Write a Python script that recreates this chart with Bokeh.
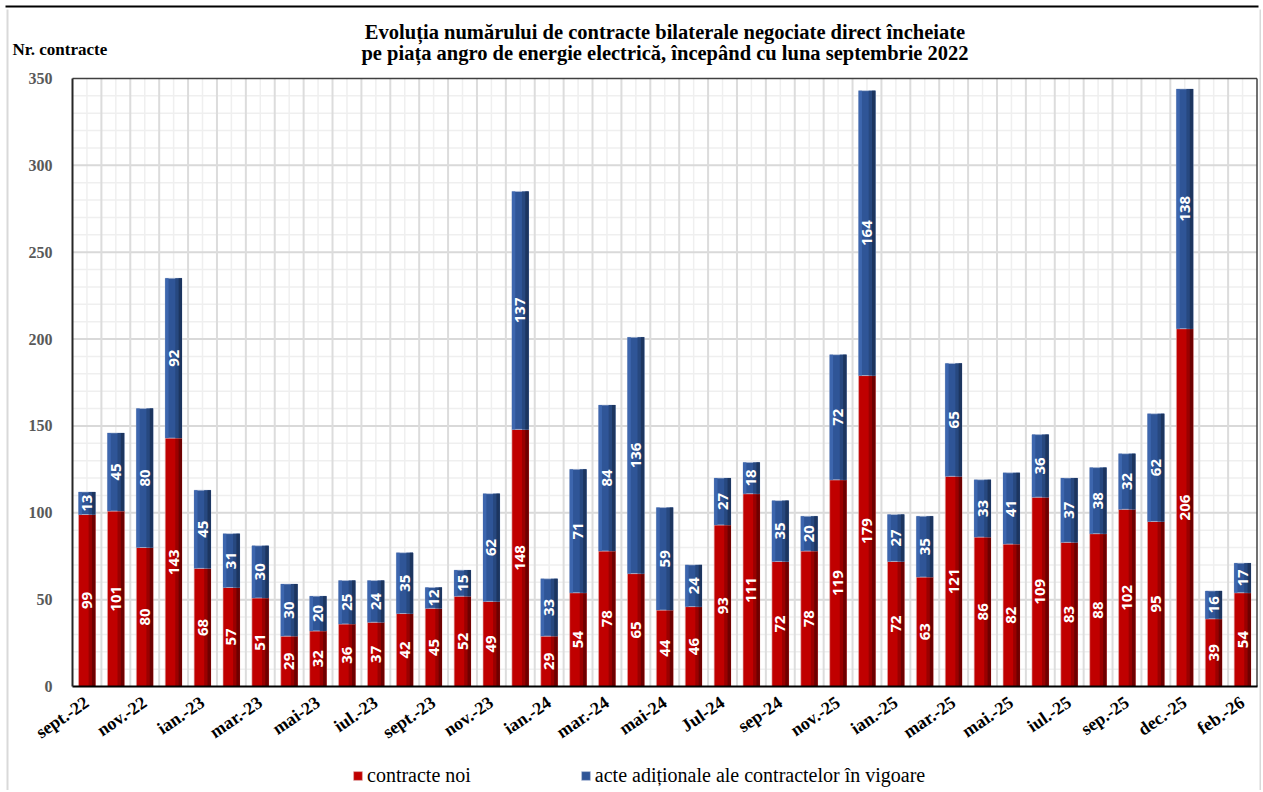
from bokeh.plotting import figure
from bokeh.models import (ColumnDataSource, FixedTicker, Label, Legend, LegendItem, Range1d)
from bokeh.core.properties import value
from bokeh.embed import file_html
from bokeh.resources import INLINE
import math

months = ["sept.-22", "oct.-22", "nov.-22", "dec.-22", "ian.-23", "feb.-23", "mar.-23", "apr.-23",
          "mai-23", "iun.-23", "iul.-23", "aug.-23", "sept.-23", "oct.-23", "nov.-23", "dec.-23",
          "ian.-24", "feb.-24", "mar.-24", "apr.-24", "mai-24", "iun.-24", "Jul-24", "aug-24",
          "sep-24", "oct-24", "nov.-25", "dec.-24", "ian.-25", "feb.-25", "mar.-25", "apr.-25",
          "mai.-25", "iun.-25", "iul.-25", "aug.-25", "sep.-25", "oct.-25", "dec.-25", "ian.-26",
          "feb.-26"]
new_contracts = [99, 101, 80, 143, 68, 57, 51, 29, 32, 36, 37, 42, 45, 52, 49, 148, 29, 54, 78, 65,
                 44, 46, 93, 111, 72, 78, 119, 179, 72, 63, 121, 86, 82, 109, 83, 88, 102, 95, 206,
                 39, 54]
addenda = [13, 45, 80, 92, 45, 31, 30, 30, 20, 25, 24, 35, 12, 15, 62, 137, 33, 71, 84, 136,
           59, 24, 27, 18, 35, 20, 72, 164, 27, 35, 65, 33, 41, 36, 37, 38, 32, 62, 138, 16, 17]
y_max = 350
y_major_step = 50
y_minor_step = 10
series_names = ["contracte noi", "acte adiționale ale contractelor în vigoare"]
title_lines = ["Evoluția numărului de contracte bilaterale negociate direct încheiate",
               "pe piața angro de energie electrică, începând cu luna septembrie 2022"]
y_title = "Nr. contracte"

n = len(months)
xs = list(range(1, n + 1))
red_top = list(new_contracts)
blue_top = [a + b for a, b in zip(new_contracts, addenda)]

# ---- canvas / plot-area geometry (pixels) ----
CW, CH = 1261, 790
PL, PR, PT, PB = 72, 1256.5, 78, 686      # plot area edges in px
px_per_x = (PR - PL) / n
px_per_y = (PB - PT) / y_max
x0 = 0.5 - PL / px_per_x
x1 = 0.5 + (CW - PL) / px_per_x
y0 = -(CH - PB) / px_per_y
y1 = PB / px_per_y


def dx(px):
    return 0.5 + (px - PL) / px_per_x


def dy(py):
    return (PB - py) / px_per_y


src = ColumnDataSource(dict(x=xs, red_top=red_top, blue_top=blue_top, zero=[0] * n))

p = figure(width=CW, height=CH, output_backend="svg", toolbar_location=None, title=None,
           x_range=Range1d(x0, x1), y_range=Range1d(y0, y1),
           min_border_left=0, min_border_right=0, min_border_top=0, min_border_bottom=0)
p.outline_line_color = None
p.background_fill_color = "white"
p.xgrid.visible = False
p.ygrid.visible = False

# chart-area decorations
p.segment(x0=[dx(5)], y0=[dy(6)], x1=[dx(1258)], y1=[dy(6)], line_color="black", line_width=2)
p.segment(x0=[dx(7), dx(1260)], y0=[dy(9), dy(9)], x1=[dx(7), dx(1260)], y1=[dy(CH), dy(CH)],
          line_color="#d9d9d9", line_width=2)

# grid lines
xa, xb = 0.5, n + 0.5
y_major = list(range(y_major_step, y_max, y_major_step))
y_minor = [v for v in range(y_minor_step, y_max, y_minor_step) if v % y_major_step]
x_major = [i + 0.5 for i in range(1, n)]
p.segment(x0=[xa] * len(y_minor), y0=y_minor, x1=[xb] * len(y_minor), y1=y_minor,
          line_color="#efefef", line_width=1.5)
p.segment(x0=xs, y0=[0] * n, x1=xs, y1=[y_max] * n, line_color="#efefef", line_width=1.5)
p.segment(x0=[xa] * len(y_major), y0=y_major, x1=[xb] * len(y_major), y1=y_major,
          line_color="#d9d9d9", line_width=2)
p.segment(x0=x_major, y0=[0] * len(x_major), x1=x_major, y1=[y_max] * len(x_major),
          line_color="#dcdcdc", line_width=2)

# bars
W = 0.58
r_red = p.vbar(x="x", bottom="zero", top="red_top", width=W, source=src,
               fill_color="#c00000", line_color="#e0b0b0", line_width=0.6)
p.vbar(x=[x + W * 0.3 for x in xs], bottom=[0] * n, top=red_top, width=W * 0.4,
       fill_color="#9a0000", line_color=None)
p.vbar(x=[x + W * 0.4 for x in xs], bottom=[0] * n, top=red_top, width=W * 0.2,
       fill_color="#6e0000", line_color=None)
r_blue = p.vbar(x="x", bottom="red_top", top="blue_top", width=W, source=src,
                fill_color="#2f5597", line_color="#b8c4dc", line_width=0.6)
p.vbar(x=[x - W * 0.4 for x in xs], bottom=red_top, top=blue_top, width=W * 0.2,
       fill_color="#3d66ae", line_color=None)
p.vbar(x=[x + W * 0.3 for x in xs], bottom=red_top, top=blue_top, width=W * 0.4,
       fill_color="#27487f", line_color=None)
p.vbar(x=[x + W * 0.4 for x in xs], bottom=red_top, top=blue_top, width=W * 0.2,
       fill_color="#1c355f", line_color=None)

# plot-area border (top / right)
p.segment(x0=[xa, xb], y0=[y_max, 0], x1=[xb, xb], y1=[y_max, y_max],
          line_color="#404040", line_width=1.5)

# data labels
lab_x = xs + xs
lab_y = [r / 2 for r in red_top] + [r + b / 2 for r, b in zip(red_top, addenda)]
lab_t = [str(v) for v in new_contracts] + [str(v) for v in addenda]
p.text(x=lab_x, y=lab_y, text=lab_t, angle=math.pi / 2, text_color="white",
       text_font=value("Noto Sans"), text_font_style="bold", text_font_size="15px",
       text_align="center", text_baseline="middle")

# axes fixed at the plot-area edges
p.yaxis.fixed_location = 0.5
p.yaxis.bounds = (0, y_max)
p.yaxis.ticker = FixedTicker(ticks=list(range(0, y_max + 1, y_major_step)))
p.yaxis.major_tick_line_color = None
p.yaxis.minor_tick_line_color = None
p.yaxis.axis_line_color = "#262626"
p.yaxis.axis_line_width = 2
p.yaxis.major_label_text_font = "Liberation Serif"
p.yaxis.major_label_text_font_style = "bold"
p.yaxis.major_label_text_font_size = "16px"
p.yaxis.major_label_text_color = "#595959"
p.yaxis.major_label_standoff = 14

p.xaxis.fixed_location = 0
p.xaxis.bounds = (xa, xb)
p.xaxis.ticker = FixedTicker(ticks=xs[::2])
p.xaxis.major_label_overrides = {xs[i]: months[i] for i in range(0, n, 2)}
p.xaxis.major_tick_line_color = None
p.xaxis.minor_tick_line_color = None
p.xaxis.axis_line_color = "black"
p.xaxis.axis_line_width = 2
p.xaxis.major_label_text_font = "Liberation Serif"
p.xaxis.major_label_text_font_style = "bold"
p.xaxis.major_label_text_font_size = "18px"
p.xaxis.major_label_text_color = "black"
p.xaxis.major_label_orientation = 0.6
p.xaxis.major_label_standoff = 8

# titles
for line, py in zip(title_lines, [31, 52]):
    p.add_layout(Label(x=dx(664.5), y=dy(py), text=line, text_font="Liberation Serif",
                       text_font_style="bold", text_font_size="20.5px", text_align="center",
                       text_baseline="middle", text_color="black"))
p.add_layout(Label(x=dx(12), y=dy(49), text=y_title, text_font="Liberation Serif",
                   text_font_style="bold", text_font_size="17px", text_align="left",
                   text_baseline="middle", text_color="black"))

legend = Legend(items=[LegendItem(label=series_names[0], renderers=[r_red]),
                       LegendItem(label=series_names[1], renderers=[r_blue])],
                orientation="horizontal", location=(352, 3), glyph_width=11, glyph_height=11,
                label_standoff=4, spacing=109, padding=0, margin=0, border_line_color=None,
                background_fill_alpha=0, label_text_font="Liberation Serif",
                label_text_font_size="20px", label_text_color="black")
p.add_layout(legend)

open("out.html", "w").write(file_html(p, INLINE))
